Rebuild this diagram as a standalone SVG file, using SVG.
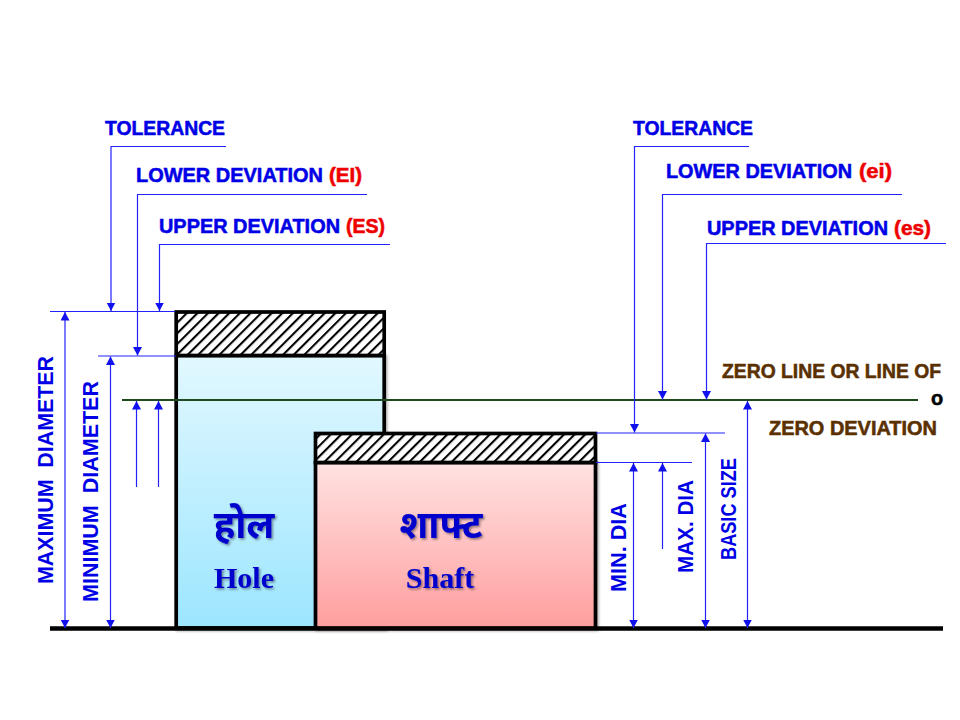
<svg xmlns="http://www.w3.org/2000/svg" width="960" height="720" viewBox="0 0 960 720">
<style>
.dim{fill:none;stroke:#2222ff;stroke-width:1.2}
.arr{marker-end:url(#a)}
.both{marker-start:url(#a);marker-end:url(#a)}
text{font-family:"Liberation Sans",Arial,sans-serif;font-weight:bold}
.t{font-size:20.500px;fill:#0000e6;stroke:#0000e6;stroke-width:.55}
.r{fill:#ee0000;stroke:#ee0000}
.z{font-size:20.500px;fill:#5a3000;stroke:#5a3000;stroke-width:.55}
.v{font-size:22px;fill:#0000e6}
.box{stroke:#000;stroke-width:3.7}
.big{font-family:"Liberation Serif","Noto Sans",serif;fill:#0000cc;filter:url(#s)}
</style>
<defs>
<marker id="a" markerUnits="userSpaceOnUse" markerWidth="10" markerHeight="10" refX="8.500" refY="4.500" orient="auto-start-reverse"><path d="M0,0L8.500,4.500L0,9Z" fill="#1111ee"/></marker>
<pattern id="h" patternUnits="userSpaceOnUse" width="7.500" height="7.500" patternTransform="rotate(-45)"><rect width="7.500" height="7.500" fill="#fff"/><rect width="7.500" height="2.100" fill="#000"/></pattern>
<linearGradient id="gh" x1="0" y1="0" x2="0" y2="1"><stop offset="0" stop-color="#e2f8ff"/><stop offset="1" stop-color="#9ce6ff"/></linearGradient>
<linearGradient id="gs" x1="0" y1="0" x2="0" y2="1"><stop offset="0" stop-color="#ffe2e2"/><stop offset="1" stop-color="#ff9e9e"/></linearGradient>
<filter id="s" x="-20%" y="-20%" width="140%" height="140%"><feDropShadow dx="1.500" dy="1.500" stdDeviation="1" flood-color="#000" flood-opacity=".45"/></filter>
<filter id="b" x="-5%" y="-5%" width="110%" height="110%"><feDropShadow dx="1.500" dy="1.500" stdDeviation="1.200" flood-color="#000" flood-opacity=".3"/></filter>
</defs>
<rect width="960" height="720" fill="#fff"/>
<g id="hole">
<rect x="176.200" y="355.500" width="208" height="272.500" fill="url(#gh)" class="box" filter="url(#b)"/>
<rect x="176.200" y="312" width="208" height="43.500" fill="url(#h)" class="box"/>
</g>
<g id="base"><line x1="50" y1="628.500" x2="943" y2="628.500" stroke="#000" stroke-width="4.500"/></g>
<g id="shaft">
<rect x="315.500" y="462.500" width="280" height="165.500" fill="url(#gs)" class="box" filter="url(#b)"/>
<rect x="315.500" y="433.500" width="280" height="29" fill="url(#h)" class="box"/>
</g>
<g id="zero"><line x1="122" y1="400" x2="918" y2="400" stroke="#1f4a1f" stroke-width="1.800"/></g>
<g id="connectors">
<path class="dim" d="M50 311.500H175M98 356H176M596 433H725M596 462.500H692"/>
<path class="dim arr" d="M226 146.500H111V311"/>
<path class="dim arr" d="M367 194.500H137.500V355.500"/>
<path class="dim arr" d="M390 244.500H159.500V311"/>
<path class="dim arr" d="M749 146.500H634.500V432.500"/>
<path class="dim arr" d="M902 194.500H662.500V399.500"/>
<path class="dim arr" d="M946 243.500H706.500V399.500"/>
<path class="dim both" d="M65 312V628"/>
<path class="dim both" d="M110.500 356.500V628"/>
<path class="dim arr" d="M136.500 487V401"/>
<path class="dim arr" d="M158.500 487V401"/>
<path class="dim both" d="M633.500 463V628"/>
<path class="dim arr" d="M662.500 549V463"/>
<path class="dim both" d="M705.500 433.500V628"/>
<path class="dim both" d="M747.500 401V628"/>
</g>
<g id="labels">
<text class="t" x="105" y="135" textLength="120" lengthAdjust="spacingAndGlyphs">TOLERANCE</text>
<text class="t" x="136" y="182" textLength="187" lengthAdjust="spacingAndGlyphs">LOWER DEVIATION</text>
<text class="t r" x="329" y="182" textLength="33" lengthAdjust="spacingAndGlyphs">(EI)</text>
<text class="t" x="159" y="233" textLength="181" lengthAdjust="spacingAndGlyphs">UPPER DEVIATION</text>
<text class="t r" x="346" y="233" textLength="39" lengthAdjust="spacingAndGlyphs">(ES)</text>
<text class="t" x="633" y="135" textLength="120" lengthAdjust="spacingAndGlyphs">TOLERANCE</text>
<text class="t" x="666" y="178" textLength="186" lengthAdjust="spacingAndGlyphs">LOWER DEVIATION</text>
<text class="t r" x="859" y="178" textLength="33" lengthAdjust="spacingAndGlyphs">(ei)</text>
<text class="t" x="707" y="235" textLength="181" lengthAdjust="spacingAndGlyphs">UPPER DEVIATION</text>
<text class="t r" x="894" y="235" textLength="37" lengthAdjust="spacingAndGlyphs">(es)</text>
<text class="z" x="722" y="378" textLength="219" lengthAdjust="spacingAndGlyphs">ZERO LINE OR LINE OF</text>
<text class="z" x="769" y="435" textLength="168" lengthAdjust="spacingAndGlyphs">ZERO DEVIATION</text>
<text x="931" y="405" font-size="20" fill="#000" stroke="#000" stroke-width=".5">o</text>
<text class="v" transform="translate(52.500 584) rotate(-90)" textLength="228" lengthAdjust="spacingAndGlyphs" xml:space="preserve">MAXIMUM  DIAMETER</text>
<text class="v" transform="translate(98 602) rotate(-90)" textLength="221" lengthAdjust="spacingAndGlyphs" xml:space="preserve">MINIMUM  DIAMETER</text>
<text class="v" transform="translate(625.500 592) rotate(-90)" textLength="89" lengthAdjust="spacingAndGlyphs">MIN. DIA</text>
<text class="v" transform="translate(693 573) rotate(-90)" textLength="93" lengthAdjust="spacingAndGlyphs">MAX. DIA</text>
<text class="v" transform="translate(736 560) rotate(-90)" textLength="102" lengthAdjust="spacingAndGlyphs">BASIC SIZE</text>
<text class="big" x="244" y="538" font-size="38" text-anchor="middle">होल</text>
<text class="big" x="441" y="538" font-size="38" text-anchor="middle">शाफ्ट</text>
<text class="big" x="244" y="588" font-size="30" text-anchor="middle">Hole</text>
<text class="big" x="440" y="588" font-size="30" text-anchor="middle">Shaft</text>
</g>
</svg>
